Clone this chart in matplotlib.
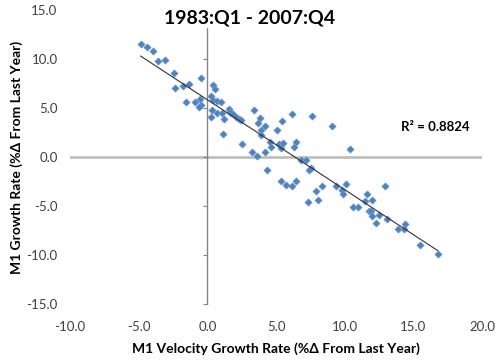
import numpy as np
import matplotlib
matplotlib.use('Agg')
import matplotlib.pyplot as plt
from matplotlib.ticker import FormatStrFormatter

plt.rcParams['font.family'] = ['Lato', 'DejaVu Sans']

# M1 velocity growth (x) vs M1 growth (y), % change from last year, 1983:Q1 - 2007:Q4
velocity = [-4.86, -4.37, -3.93, -3.57, -3.09, -2.42, -2.37, -1.76, -1.31, -0.45,
            -1.53, -0.92, -0.50, -0.44, -0.58, 0.39, 0.55, 0.25, 0.44, 0.74,
            1.02, 0.33, 0.25, 0.68, 1.09, 1.19, 1.55, 1.62, 1.75, 1.86,
            2.11, 2.28, 2.48, 1.14, 3.37, 3.81, 3.70, 4.22, 5.46, 6.13,
            5.06, 3.88, 3.94, 2.51, 4.54, 4.61, 5.21, 5.48, 5.39, 6.48,
            6.32, 3.23, 4.17, 3.63, 7.65, 9.08, 10.40, 6.85, 7.21, 7.56,
            7.40, 4.34, 5.34, 6.43, 6.18, 5.75, 8.32, 7.94, 7.34, 8.03,
            9.40, 10.07, 9.80, 9.88, 10.60, 10.97, 11.65, 12.02, 11.46, 11.78,
            11.93, 11.98, 12.26, 12.53, 12.91, 13.08, 13.88, 14.36, 14.31, 15.51,
            16.76]
m1_growth = [11.50, 11.19, 10.86, 9.82, 9.90, 8.62, 7.01, 7.24, 7.42, 8.03,
             5.65, 5.61, 5.94, 5.35, 5.14, 7.32, 6.94, 6.19, 5.87, 5.70,
             5.61, 4.85, 4.13, 4.49, 4.49, 3.85, 4.94, 4.59, 4.49, 4.36,
             4.08, 3.92, 3.74, 2.36, 4.77, 4.00, 3.47, 3.15, 3.67, 4.43,
             2.72, 2.72, 2.27, 1.34, 1.57, 1.02, 1.37, 1.40, 0.89, 1.50,
             1.02, 0.53, 0.50, 0.07, 4.17, 3.21, 0.82, -0.26, -0.26, -1.11,
             -1.36, -1.29, -2.40, -2.43, -2.99, -2.82, -2.91, -3.47, -4.62, -4.39,
             -2.97, -2.71, -3.40, -3.81, -5.11, -5.11, -3.76, -4.40, -4.49, -5.54,
             -5.54, -6.03, -6.73, -5.90, -2.97, -6.29, -7.38, -6.80, -7.33, -8.93,
             -9.88]
x_ticks = [-10, -5, 0, 5, 10, 15, 20]
y_ticks = [-15, -10, -5, 0, 5, 10, 15]

x = np.array(velocity)
y = np.array(m1_growth)
slope, intercept = np.polyfit(x, y, 1)
xfit = np.array([x.min(), x.max()])

fig = plt.figure(figsize=(5, 3.62), dpi=100)
ax = fig.add_axes([0.14, 0.16, 0.824, 0.812])

ax.axhline(0, color='#BFBFBF', lw=2, zorder=1)
ax.scatter(x, y, marker='D', s=14, color='#4F81BD', edgecolors='#729FDB',
           linewidths=0.4, zorder=3)
ax.plot(xfit, slope * xfit + intercept, color='#333333', lw=0.8, zorder=4)

ax.set_xlim(-10, 20)
ax.set_ylim(-15, 15)
ax.set_xticks(x_ticks)
ax.set_yticks(y_ticks)
ax.xaxis.set_major_formatter(FormatStrFormatter('%.1f'))

for s in ['top', 'right', 'bottom']:
    ax.spines[s].set_visible(False)
ax.spines['left'].set_position(('data', 0))
ax.spines['left'].set_color('#868686')
ax.spines['left'].set_linewidth(1)
ax.tick_params(axis='y', direction='out', length=3, color='#868686', labelleft=False)
ax.tick_params(axis='x', length=0, pad=12, labelsize=9.5, labelcolor='#404040')

sec = ax.secondary_yaxis('left')
sec.spines['left'].set_visible(False)
sec.set_yticks(y_ticks)
sec.yaxis.set_major_formatter(FormatStrFormatter('%.1f'))
sec.tick_params(length=0, pad=9, labelsize=9.5, labelcolor='#404040')
sec.set_ylabel('M1 Growth Rate (%\u0394 From Last Year)', fontsize=10,
               fontweight='bold', labelpad=2)

ax.set_xlabel('M1 Velocity Growth Rate (%\u0394 From Last Year)', fontsize=10,
              fontweight='bold', labelpad=7)

fig.text(0.5, 0.95, '1983:Q1 - 2007:Q4', ha='center', va='center',
         fontsize=14, fontweight='bold', zorder=5,
         bbox=dict(facecolor='white', edgecolor='none', pad=1))
ax.text(0.803, 0.602, 'R\u00b2 = 0.8824', transform=ax.transAxes, ha='left',
        va='center', fontsize=9.5, fontweight='bold')

fig.savefig('out.png', dpi=100)
